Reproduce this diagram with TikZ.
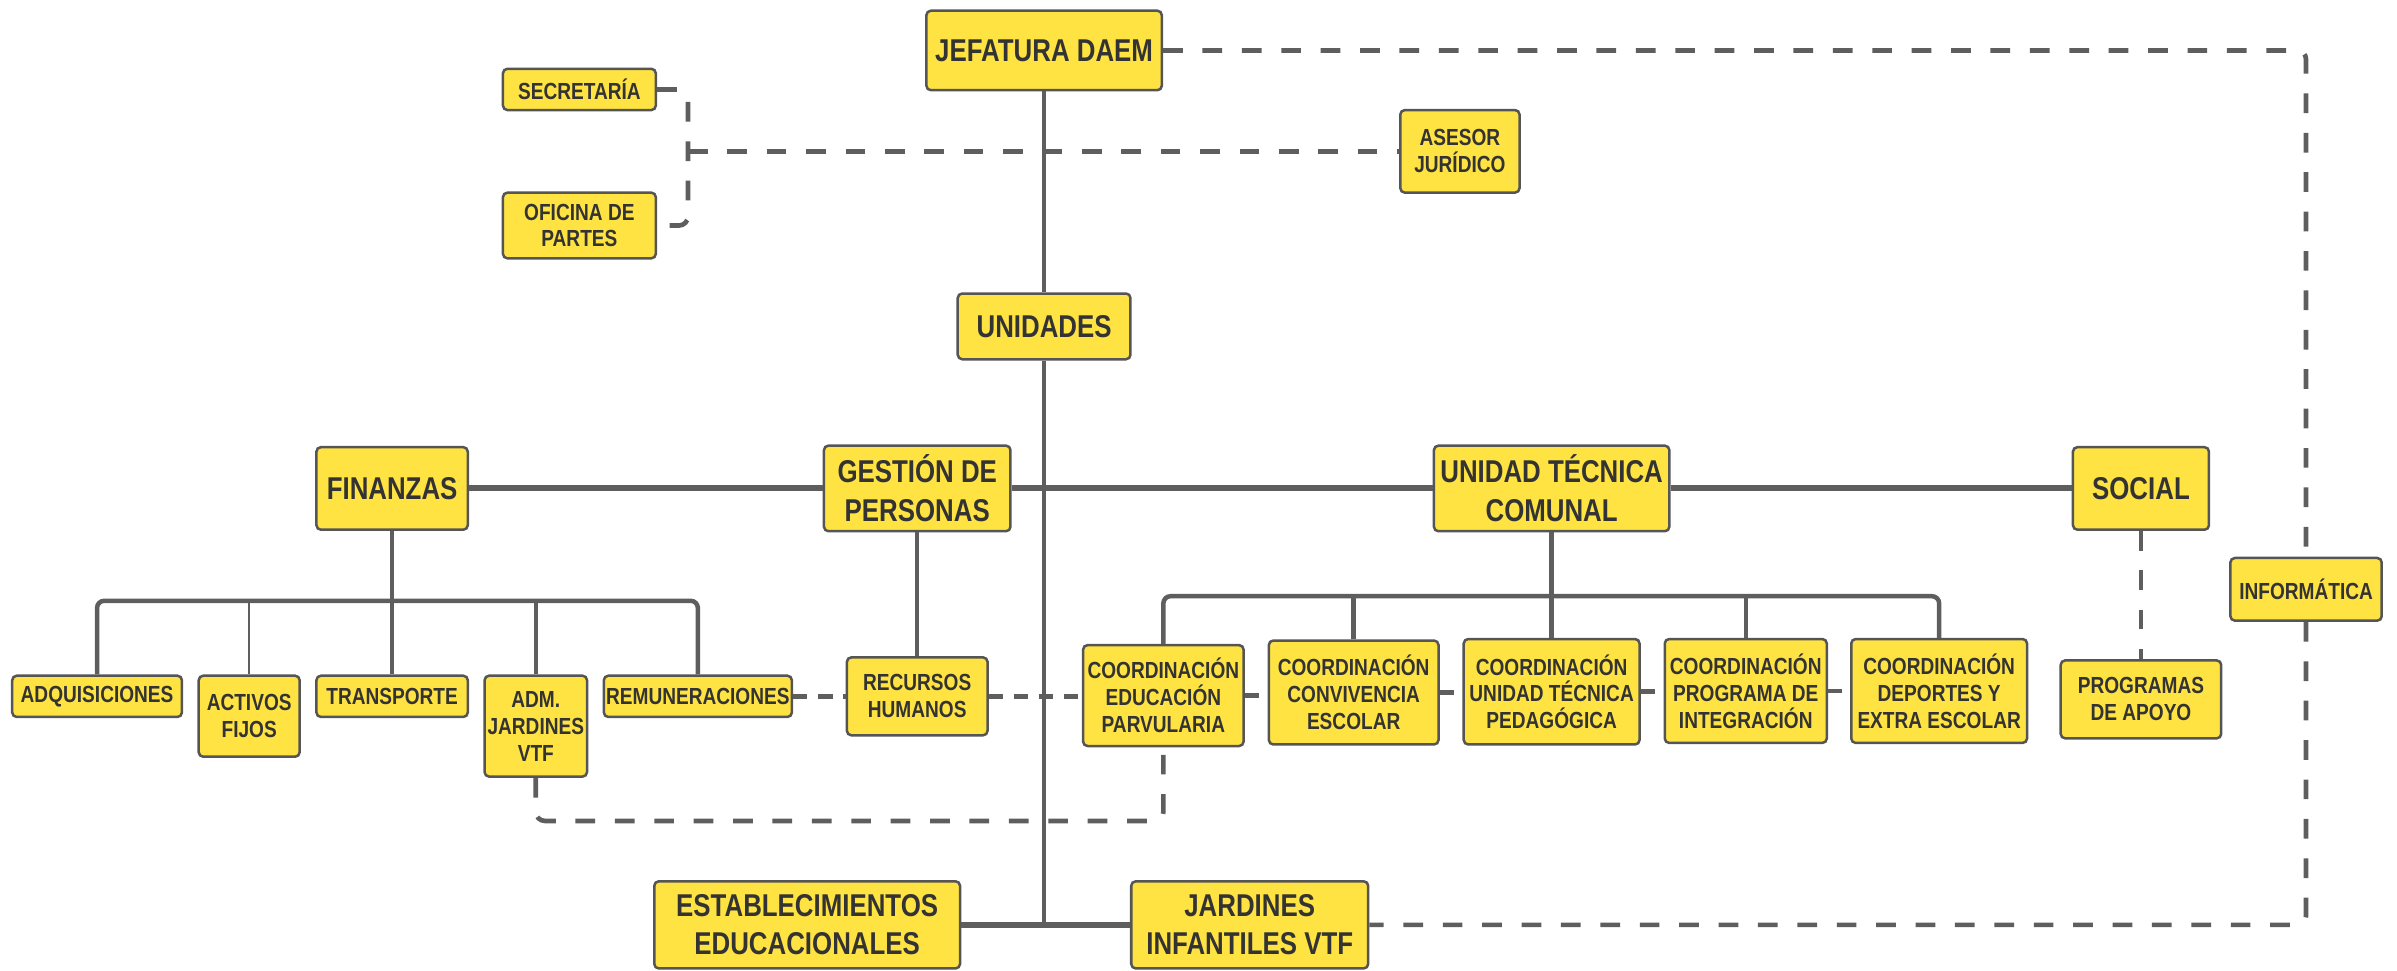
\documentclass[tikz,border=0pt]{standalone}
\usepackage{fontspec}
\setmainfont{Liberation Sans}[FakeStretch=0.82]
\usetikzlibrary{calc}
\definecolor{boxyellow}{HTML}{FFE342}
\definecolor{boxedge}{HTML}{555555}
\definecolor{linegray}{HTML}{5E5E5E}
\definecolor{textgray}{HTML}{333333}

\begin{document}
\begin{tikzpicture}
      [x = 0.3mm, y = -0.3mm,
      box/.style 2 args= {
         draw = boxedge,
         fill = boxyellow,
         line width = 1.4pt,
         rounded corners = 2.5pt,
         text = textgray,
         font = \bfseries\fontsize{13}{15}\selectfont,
         align = center,
         inner sep = 1pt,
         minimum width = #1*0.3mm,
         minimum height = #2*0.3mm
      },
      bigbox/.style 2 args= {
         box = {#1}{#2},
         font = \bfseries\fontsize{17.6}{21.5}\selectfont
      },
      thick/.style= {draw = linegray, line width = 3.3pt},
      medium/.style= {draw = linegray, line width = 2.5pt},
      thin/.style= {draw = linegray, line width = 1.3pt},
      dashline/.style= {
         draw = linegray,
         line width = 2.6pt,
         dash pattern = on 11pt off 11pt,
         rounded corners = 5pt
      }]

      \useasboundingbox (0, 0) rectangle (1568, 635);

      % top level
      \node[bigbox = {154}{52}] (jefatura) at (683, 33) {JEFATURA DAEM};
      \node[box = {100}{27}] (secretaria) at (379, 58.5) {SECRETARÍA};
      \node[box = {100}{43}] (oficina) at (379, 147.5) {OFICINA DE\\PARTES};
      \node[box = {78}{54}] (asesor) at (955, 99) {ASESOR\\JURÍDICO};
      \node[bigbox = {113}{43}] (unidades) at (683, 213.5) {UNIDADES};

      % units
      \node[bigbox = {99}{54}] (finanzas) at (256.5, 319.5) {FINANZAS};
      \node[bigbox = {122}{56}] (gestion) at (600, 319.5) {GESTIÓN DE\\PERSONAS};
      \node[bigbox = {154}{56}] (utc) at (1015, 319.5) {UNIDAD TÉCNICA\\COMUNAL};
      \node[bigbox = {89}{54}] (social) at (1400.5, 319.5) {SOCIAL};
      \node[box = {99}{41}] (informatica) at (1508.5, 385.5) {INFORMÁTICA};

      % finance
      \node[box = {111}{27}] (adquis) at (63.5, 455.5) {ADQUISICIONES};
      \node[box = {66}{53}] (activos) at (163, 468.5) {ACTIVOS\\FIJOS};
      \node[box = {99}{27}] (transporte) at (256.5, 455.5) {TRANSPORTE};
      \node[box = {67}{66}] (adm) at (350.5, 475) {ADM.\\JARDINES\\VTF};
      \node[box = {123}{27}] (remun) at (456.5, 455.5) {REMUNERACIONES};
      \node[box = {92}{51}] (recursos) at (600, 455.5) {RECURSOS\\HUMANOS};

      % coordinations
      \node[box = {105}{66}] (cedu) at (761, 455) {COORDINACIÓN\\EDUCACIÓN\\PARVULARIA};
      \node[box = {111}{68}] (cconv) at (885.5, 453) {COORDINACIÓN\\CONVIVENCIA\\ESCOLAR};
      \node[box = {115}{69}] (cutp) at (1015, 452.5) {COORDINACIÓN\\UNIDAD TÉCNICA\\PEDAGÓGICA};
      \node[box = {106}{68}] (cpi) at (1142, 452) {COORDINACIÓN\\PROGRAMA DE\\INTEGRACIÓN};
      \node[box = {115}{68}] (cdep) at (1268.5, 452) {COORDINACIÓN\\DEPORTES Y\\EXTRA ESCOLAR};
      \node[box = {105}{51}] (programas) at (1400.5, 457.5) {PROGRAMAS\\DE APOYO};

      % bottom
      \node[bigbox = {200}{57}] (establec) at (528, 605) {ESTABLECIMIENTOS\\EDUCACIONALES};
      \node[bigbox = {155}{57}] (jardines) at (817.5, 605) {JARDINES\\INFANTILES VTF};

      \coordinate (brk) at (450, 99);
      \coordinate (hub) at (683, 605);
      \coordinate (fbus) at (256.5, 393);
      \coordinate (ubus) at (1015, 390);
      \coordinate (admlow) at (350.5, 537);

      \draw[medium] (jefatura) -- (unidades);
      \draw[medium] (unidades) -- (hub);
      \draw[thick] (establec) -- (jardines);

      \draw[thick] (finanzas) -- (gestion);
      \draw[thick] (gestion) -- (utc);
      \draw[thick] (utc) -- (social);

      \draw[dashline] (secretaria.east) -| (brk) |- (oficina.east);
      \draw[dashline] (brk) -- (asesor.west);
      \draw[dashline] (jefatura.east) -| (informatica.north);
      \draw[dashline] (informatica.south) |- (jardines.east);

      % finance branch
      \draw[medium] (finanzas) -- (transporte);
      \draw[medium, rounded corners = 4pt] (adquis.north) |- (fbus) -| (remun.north);
      \draw[thin] (activos.north) -- (activos.north |- fbus);
      \draw[medium] (adm.north) -- (adm.north |- fbus);
      \draw[medium] (gestion) -- (recursos);
      \draw[dashline] (adm.south) -- (admlow) -| (cedu.south);

      % technical branch
      \draw[medium] (utc) -- (cutp);
      \draw[medium, rounded corners = 4pt] (cedu.north) |- (ubus) -| (cdep.north);
      \draw[medium] (cconv.north) -- (cconv.north |- ubus);
      \draw[medium] (cpi.north) -- (cpi.north |- ubus);
      \draw[dashline] (social) -- (programas);

      \foreach \a/\b in {remun/recursos, recursos/cedu, cedu/cconv, cconv/cutp, cutp/cpi, cpi/cdep}
         \draw[dashline, dash pattern = on 8pt off 6pt] (\a.east) -- (\a.east -| \b.west);

   \end{tikzpicture}
\end{document}
